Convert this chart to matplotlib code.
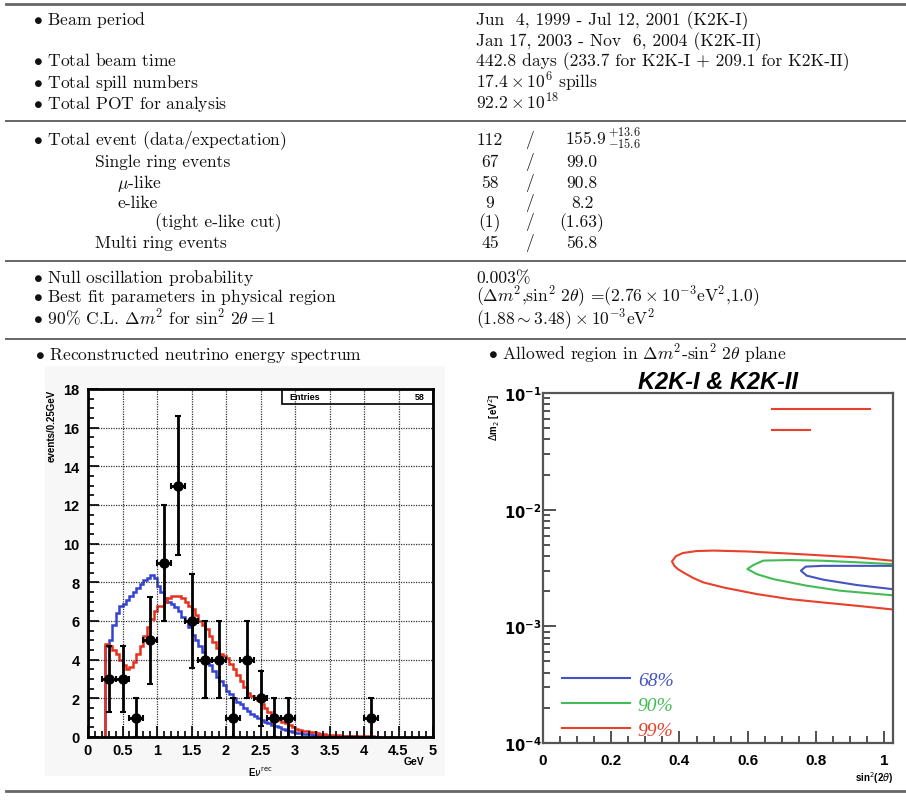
import numpy as np
import matplotlib
matplotlib.use("Agg")
import matplotlib.pyplot as plt
from matplotlib.lines import Line2D
from matplotlib.patches import Rectangle
from matplotlib.ticker import MultipleLocator, LogLocator, NullFormatter

# ------------------------------------------------------------------ data
block1_left = ["Beam period", "", "Total beam time", "Total spill numbers",
               "Total POT for analysis"]
block1_right = ["Jun  4, 1999 - Jul 12, 2001 (K2K-I)",
                "Jan 17, 2003 - Nov  6, 2004 (K2K-II)",
                "442.8 days (233.7 for K2K-I + 209.1 for K2K-II)",
                r"$17.4\times10^{6}$ spills",
                r"$92.2\times10^{18}$"]

block2_left = ["Total event (data/expectation)", "Single ring events",
               r"$\mu$-like", "e-like", "(tight e-like cut)", "Multi ring events"]
block2_bullet = [True, False, False, False, False, False]
block2_data = ["112", "67", "58", "9", "(1)", "45"]
block2_expect = [r"155.9$\,^{+13.6}_{-15.6}$", "99.0", "90.8", "8.2", "(1.63)", "56.8"]

block3_left = ["Null oscillation probability",
               "Best fit parameters in physical region",
               r"90% C.L. $\Delta m^2$ for $\sin^2\,2\theta = 1$"]
block3_right = ["0.003%",
                r"$(\Delta m^2$,$\sin^2\,2\theta)$ =$(2.76\times10^{-3}$eV$^2$,1.0)",
                r"$(1.88\sim3.48)\times10^{-3}$eV$^2$"]

panel_titles = ["Reconstructed neutrino energy spectrum",
                r"Allowed region in $\Delta m^2$-$\sin^2\,2\theta$ plane"]

# energy spectrum: data points
e_data = [0.3, 0.5, 0.7, 0.9, 1.1, 1.3, 1.5, 1.7, 1.9, 2.1, 2.3, 2.5, 2.7, 2.9, 4.1]
n_data = [3, 3, 1, 5, 9, 13, 6, 4, 4, 1, 4, 2, 1, 1, 1]
n_err = [1.73, 1.73, 1.0, 2.24, 3.0, 3.61, 2.45, 2.0, 2.0, 1.0, 2.0, 1.41, 1.0, 1.0, 1.0]
e_halfwidth = 0.1
entries = "58"

# expectation histograms, 0.05 GeV bins starting at 0.25 GeV
hist_start, hist_width = 0.25, 0.05
null_osc = [4.7, 5.0, 5.8, 6.4, 6.8, 6.9, 7.1, 7.3, 7.5, 7.7, 7.9, 8.1, 8.2, 8.4, 8.2,
            7.8, 7.5, 7.2, 7.0, 6.9, 6.7, 6.5, 6.2, 6.0, 5.7, 5.3, 5.0, 4.7, 4.4, 4.0,
            3.7, 3.4, 3.1, 2.9, 2.7, 2.4, 2.2, 2.0, 1.8, 1.7, 1.5, 1.35, 1.2, 1.1, 1.0,
            0.9, 0.8, 0.7, 0.6, 0.55, 0.5, 0.42, 0.36, 0.3, 0.25, 0.22, 0.2, 0.18, 0.16,
            0.14, 0.12, 0.1, 0.09, 0.08, 0.07, 0.06, 0.05, 0.05, 0.04, 0.04, 0.03, 0.03,
            0.03, 0.02, 0.02, 0.02, 0.01, 0.01, 0.01]
best_fit = [4.8, 4.7, 4.5, 4.3, 4.0, 3.7, 3.5, 3.6, 3.9, 4.3, 4.7, 5.2, 5.7, 6.1, 6.5,
            6.8, 6.8, 7.0, 7.2, 7.3, 7.3, 7.3, 7.2, 7.0, 6.8, 6.6, 6.3, 6.0, 5.8, 5.6,
            5.2, 4.9, 4.6, 4.3, 4.2, 4.1, 3.8, 3.5, 3.2, 2.9, 2.6, 2.3, 2.1, 2.0, 1.9,
            1.7, 1.5, 1.3, 1.15, 1.0, 0.9, 0.8, 0.7, 0.6, 0.5, 0.42, 0.36, 0.33, 0.3,
            0.28, 0.25, 0.22, 0.18, 0.15, 0.12, 0.1, 0.09, 0.08, 0.07, 0.06, 0.06, 0.05,
            0.05, 0.05, 0.04, 0.04, 0.03, 0.03, 0.02]

x_ticks_left = [0, 0.5, 1, 1.5, 2, 2.5, 3, 3.5, 4, 4.5, 5]
x_ticklabels_left = ["0", "0.5", "1", "1.5", "2", "2.5", "3", "3.5", "4", "4.5", "5"]
y_ticks_left = [0, 2, 4, 6, 8, 10, 12, 14, 16, 18]

# allowed region contours (sin^2 2theta, dm^2)
c68_s = [1.02, 0.92, 0.82, 0.77, 0.756, 0.773, 0.822, 0.92, 1.02]
c68_m = [3.3e-3, 3.3e-3, 3.3e-3, 3.25e-3, 3.0e-3, 2.72e-3, 2.51e-3, 2.26e-3, 2.09e-3]
c90_s = [1.02, 0.92, 0.82, 0.724, 0.646, 0.617, 0.599, 0.627, 0.675, 0.773, 0.871, 1.02]
c90_m = [3.42e-3, 3.54e-3, 3.65e-3, 3.7e-3, 3.66e-3, 3.36e-3, 3.1e-3, 2.8e-3, 2.54e-3,
         2.23e-3, 2.02e-3, 1.85e-3]
c99_s = [1.02, 0.92, 0.82, 0.725, 0.60, 0.50, 0.45, 0.41, 0.39, 0.378, 0.385, 0.395,
         0.411, 0.44, 0.47, 0.53, 0.627, 0.724, 0.822, 0.92, 1.02]
c99_m = [3.66e-3, 3.9e-3, 4.05e-3, 4.2e-3, 4.38e-3, 4.46e-3, 4.42e-3, 4.25e-3, 4.0e-3,
         3.6e-3, 3.3e-3, 3.1e-3, 2.9e-3, 2.6e-3, 2.38e-3, 2.15e-3, 1.89e-3, 1.71e-3,
         1.6e-3, 1.5e-3, 1.4e-3]
c99_island1_s = [0.67, 0.96]
c99_island1_m = [7.3e-2, 7.3e-2]
c99_island2_s = [0.672, 0.783]
c99_island2_m = [4.85e-2, 4.85e-2]
cl_labels = ["68%", "90%", "99%"]

x_ticks_right = [0, 0.2, 0.4, 0.6, 0.8, 1.0]
x_ticklabels_right = ["0", "0.2", "0.4", "0.6", "0.8", "1"]
y_ticks_right = [1e-4, 1e-3, 1e-2, 1e-1]
y_ticklabels_right = [r"$\mathbf{10^{-4}}$", r"$\mathbf{10^{-3}}$",
                      r"$\mathbf{10^{-2}}$", r"$\mathbf{10^{-1}}$"]

# ------------------------------------------------------------------ figure
W, H = 906, 803
fig = plt.figure(figsize=(W / 100, H / 100), dpi=100)
fig.patch.set_facecolor("white")


def fx(px):
    return px / W


def fy(py):
    return 1 - py / H


T = dict(family="cmr10", fontsize=12.6, math_fontfamily="cm", va="baseline",
         color="#111111")
BUL = r"$\bullet$ "

# horizontal rules
for yy, lw in [(5, 2.0), (122, 1.4), (262, 1.4), (340, 1.4), (792, 2.0)]:
    fig.add_artist(Line2D([fx(6), fx(906)], [fy(yy), fy(yy)], color="#666666",
                          lw=lw, transform=fig.transFigure))

# block 1
y1 = [25, 46, 66, 88, 109]
for s, yb in zip(block1_left, y1):
    if s:
        fig.text(fx(33), fy(yb), BUL + s, **T)
for s, yb in zip(block1_right, y1):
    fig.text(fx(476), fy(yb), s, **T)

# block 2
y2 = [145, 167, 188, 208, 227, 248]
x2 = [33, 95, 117, 117, 155, 95]
for s, b, xx, yb in zip(block2_left, block2_bullet, x2, y2):
    fig.text(fx(xx), fy(yb), (BUL + s) if b else s, **T)
for i, (d, e, yb) in enumerate(zip(block2_data, block2_expect, y2)):
    fig.text(fx(490), fy(yb), d, ha="center", **T)
    fig.text(fx(529), fy(yb), "/", ha="center", **T)
    if i == 0:
        fig.text(fx(565), fy(yb), e, ha="left", **T)
    else:
        fig.text(fx(582), fy(yb), e, ha="center", **T)

# block 3
y3 = [283, 302, 325]
for s, yb in zip(block3_left, y3):
    fig.text(fx(33), fy(yb), BUL + s, **T)
for s, yb in zip(block3_right, y3):
    fig.text(fx(476), fy(yb), s, **T)

# block 4 titles
fig.text(fx(35), fy(360), BUL + panel_titles[0], **T)
fig.text(fx(488), fy(360), BUL + panel_titles[1], **T)

# light background of the embedded spectrum picture
fig.add_artist(Rectangle((fx(45), fy(777)), fx(400), 410 / H, transform=fig.transFigure,
                         facecolor="#f7f7f7", edgecolor="none", zorder=0))

# ------------------------------------------------------------------ left plot
TL = dict(family="Liberation Sans", fontweight="bold")
axL = fig.add_axes([fx(88), fy(738), fx(345), 348 / H])
axL.set_facecolor("white")
edges = hist_start + hist_width * np.arange(len(null_osc) + 1)
axL.stairs(null_osc, edges, color="#3344d4", lw=1.8, baseline=0)
axL.stairs(best_fit, edges, color="#e8301f", lw=1.8, baseline=0)
axL.errorbar(e_data, n_data, xerr=e_halfwidth, yerr=n_err, fmt="o", color="black",
             ms=6.5, elinewidth=2, capsize=2, capthick=1.5, zorder=5)
axL.set_xlim(0, 5)
axL.set_ylim(0, 18)
axL.set_xticks(x_ticks_left)
axL.set_xticklabels(x_ticklabels_left, **TL, fontsize=10.5)
axL.set_yticks(y_ticks_left)
axL.set_yticklabels([str(v) for v in y_ticks_left], **TL, fontsize=10.5)
axL.xaxis.set_minor_locator(MultipleLocator(0.1))
axL.yaxis.set_minor_locator(MultipleLocator(0.5))
axL.tick_params(which="both", direction="in", top=False, right=False, width=1.2)
axL.tick_params(which="major", length=8, pad=4)
axL.tick_params(which="minor", length=4)
axL.tick_params(axis="y", which="major", pad=6)
axL.grid(True, which="major", color="#333333", ls=(0, (1, 1)), lw=0.9)
for sp in axL.spines.values():
    sp.set_linewidth(2)
axL.set_ylabel("events/0.25GeV", loc="top", fontsize=7, labelpad=5, **TL)
axL.set_xlabel(r"E$\nu^{\rm rec}$", fontsize=7, labelpad=6, **TL)
axL.text(0.945, -0.07, "GeV", transform=axL.transAxes, ha="center", va="center",
         fontsize=7.5, **TL)
# statistics box
axL.add_patch(Rectangle((0.562, 0.957), 0.438, 0.043, transform=axL.transAxes,
                        facecolor="none", edgecolor="black", lw=1.2, zorder=6))
axL.text(0.585, 0.978, "Entries", transform=axL.transAxes, ha="left", va="center",
         fontsize=6.5, zorder=7, **TL)
axL.text(0.975, 0.978, entries, transform=axL.transAxes, ha="right", va="center",
         fontsize=6.5, zorder=7, **TL)

# ------------------------------------------------------------------ right plot
axR = fig.add_axes([fx(543), fy(744), fx(350), 350 / H])
axR.set_yscale("log")
colors = ["#4455c0", "#44bb55", "#e8402a"]
axR.plot(c68_s, c68_m, color=colors[0], lw=1.5)
axR.plot(c90_s, c90_m, color=colors[1], lw=1.5)
axR.plot(c99_s, c99_m, color=colors[2], lw=1.5)
axR.plot(c99_island1_s, c99_island1_m, color=colors[2], lw=1.5)
axR.plot(c99_island2_s, c99_island2_m, color=colors[2], lw=1.5)
axR.set_xlim(0, 1.026)
axR.set_ylim(1e-4, 1e-1)
axR.set_xticks(x_ticks_right)
axR.set_xticklabels(x_ticklabels_right, **TL, fontsize=11)
axR.xaxis.set_minor_locator(MultipleLocator(0.05))
axR.set_yticks(y_ticks_right)
axR.set_yticklabels(y_ticklabels_right, fontsize=10.5)
axR.yaxis.set_minor_locator(LogLocator(base=10, subs=np.arange(2, 10)))
axR.yaxis.set_minor_formatter(NullFormatter())
axR.tick_params(which="both", direction="in", top=False, right=False, width=1.2,
                color="#333333")
axR.tick_params(which="major", length=9)
axR.tick_params(axis="x", which="major", pad=7)
axR.tick_params(which="minor", length=5)
axR.tick_params(axis="y", which="major", pad=1)
for sp in axR.spines.values():
    sp.set_linewidth(1.6)
    sp.set_color("#555555")
axR.set_title("K2K-I & K2K-II", fontsize=17, style="italic", pad=2, **TL)
axR.set_ylabel(r"$\Delta$m$_2$ [eV$^2$]", loc="top", fontsize=7, labelpad=1, **TL)
axR.set_xlabel(r"sin$^2$(2$\theta$)", loc="right", fontsize=7, labelpad=2, **TL)
handles = [Line2D([], [], color=c, lw=1.5) for c in colors]
axR.legend(handles, cl_labels, loc="upper left", bbox_to_anchor=(0.054, 0.205),
           frameon=False, prop={"family": "Liberation Serif", "style": "italic",
                                "size": 14},
           labelcolor=colors, handlelength=3.5, handletextpad=0.4, labelspacing=0.38,
           borderpad=0, borderaxespad=0)

fig.savefig("out.png", dpi=100)
